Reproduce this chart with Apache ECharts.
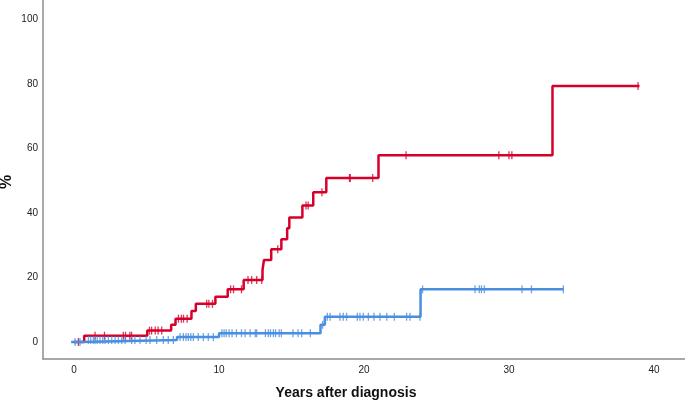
<!DOCTYPE html>
<html>
<head>
<meta charset="utf-8">
<script src="https://cdn.jsdelivr.net/npm/echarts@6/dist/echarts.min.js"></script>
<style>
html,body{margin:0;padding:0;background:#fff;}
#chart{width:685px;height:401px;}
</style>
</head>
<body>
<div id="chart"></div>
<script>
// Red group: step times (years) and cumulative level (%)
var redTimes  = [0, 0.7, 5.05, 6.7, 7.0, 8.1, 8.4, 9.75, 10.6, 11.7, 13.0, 13.1, 13.6, 14.3, 14.7, 14.85, 15.75, 16.5, 17.4, 21.0, 33.0, 39.0];
var redLevels = [0, 1.9, 3.5, 5.3, 7.2, 9.6, 11.8, 14.0, 16.3, 19.2, 22.3, 25.4, 28.7, 31.8, 35.2, 38.6, 42.3, 46.4, 50.8, 57.9, 79.3, 79.3];
var redCensor = [0.3, 1.45, 2.1, 3.4, 3.55, 3.85, 3.97, 5.2, 5.35, 5.6, 5.8, 6.05, 7.2, 7.4, 7.55, 7.8, 9.15, 9.3, 9.55, 10.8, 11.0, 11.55, 12.0, 12.25, 12.6, 12.95, 14.05, 16.0, 16.15, 17.1, 19.0, 19.05, 20.6, 22.9, 29.3, 30.0, 30.2, 38.9];

// Blue group
var blueTimes  = [-0.2, 0.45, 7.1, 10.0, 17.0, 17.3, 23.9, 33.75];
var blueLevels = [0, 0.6, 1.5, 2.7, 5.3, 7.8, 16.3, 16.3];
var blueCensor = [0.07, 0.41, 0.99, 1.15, 1.33, 1.45, 1.6, 1.79, 1.98, 2.14, 2.37, 2.6, 2.83, 3.06, 3.29, 3.52, 3.98, 4.2, 4.55, 4.97, 5.24, 5.7, 6.16, 6.5, 6.85, 7.31, 7.54, 7.72, 7.88, 8.05, 8.23, 8.57, 8.92, 9.26, 9.61, 10.2, 10.35, 10.5, 10.7, 10.9, 11.2, 11.55, 11.8, 12.15, 12.5, 12.6, 13.2, 13.4, 13.55, 13.75, 13.9, 14.15, 14.3, 15.1, 15.45, 15.7, 16.3, 17.15, 17.47, 17.66, 18.34, 18.57, 18.8, 19.54, 19.72, 19.95, 20.3, 20.69, 21.1, 21.57, 22.09, 22.94, 23.17, 23.86, 24.04, 27.66, 27.95, 28.1, 28.3, 30.9, 31.55, 33.75];

var xTicks = [0, 10, 20, 30, 40];
var yTicks = [0, 20, 40, 60, 80, 100];

function stepData(times, levels) {
  return times.map(function (t, i) { return [t, levels[i]]; });
}
function levelAt(times, levels, t) {
  var v = levels[0];
  for (var i = 0; i < times.length; i++) { if (times[i] <= t) v = levels[i]; }
  return v;
}
function censorData(cens, times, levels) {
  return cens.map(function (t) { return [t, levelAt(times, levels, t)]; });
}

var RED = '#d6002b', BLUE = '#4a8ee0';
var chart = echarts.init(document.getElementById('chart'), null, {renderer: 'canvas'});
chart.setOption({
  animation: false,
  backgroundColor: '#fff',
  grid: {left: 43, right: 0, top: 0, bottom: 42},
  xAxis: {
    type: 'value', min: -2.14, max: 42.14,
    axisLine: {show: true, onZero: false, lineStyle: {color: '#8c8c8c', width: 1.5}},
    axisTick: {show: false},
    splitLine: {show: false},
    axisLabel: {customValues: xTicks, color: '#222', fontSize: 10, fontFamily: 'Liberation Sans, Arial, sans-serif', margin: 6}
  },
  yAxis: {
    type: 'value', min: -5.3, max: 106,
    axisLine: {show: true, onZero: false, lineStyle: {color: '#8c8c8c', width: 1.5}},
    axisTick: {show: false},
    splitLine: {show: false},
    axisLabel: {customValues: yTicks, color: '#222', fontSize: 10, fontFamily: 'Liberation Sans, Arial, sans-serif', margin: 5}
  },
  graphic: [
    {type: 'text', x: 0, style: {text: 'Years after diagnosis', font: 'bold 14px "Liberation Sans", Arial, sans-serif', fill: '#111', x: 346, y: 393, textAlign: 'center', textVerticalAlign: 'middle'}},
    {type: 'text', rotation: Math.PI / 2, x: 7, y: 182, style: {text: '%', font: 'bold 16px "Liberation Sans", Arial, sans-serif', fill: '#111', textAlign: 'center', textVerticalAlign: 'middle'}}
  ],
  series: [
    {type: 'line', step: 'end', data: stepData(redTimes, redLevels), symbol: 'none', lineStyle: {color: RED, width: 2.5}, z: 2},
    {type: 'scatter', data: censorData(redCensor, redTimes, redLevels), symbol: 'rect', symbolSize: [1.3, 8], itemStyle: {color: RED}, z: 3},
    {type: 'line', step: 'end', data: stepData(blueTimes, blueLevels), symbol: 'none', lineStyle: {color: BLUE, width: 2.5}, z: 4},
    {type: 'scatter', data: censorData(blueCensor, blueTimes, blueLevels), symbol: 'rect', symbolSize: [1.3, 8], itemStyle: {color: BLUE}, z: 5}
  ]
});
</script>
</body>
</html>
